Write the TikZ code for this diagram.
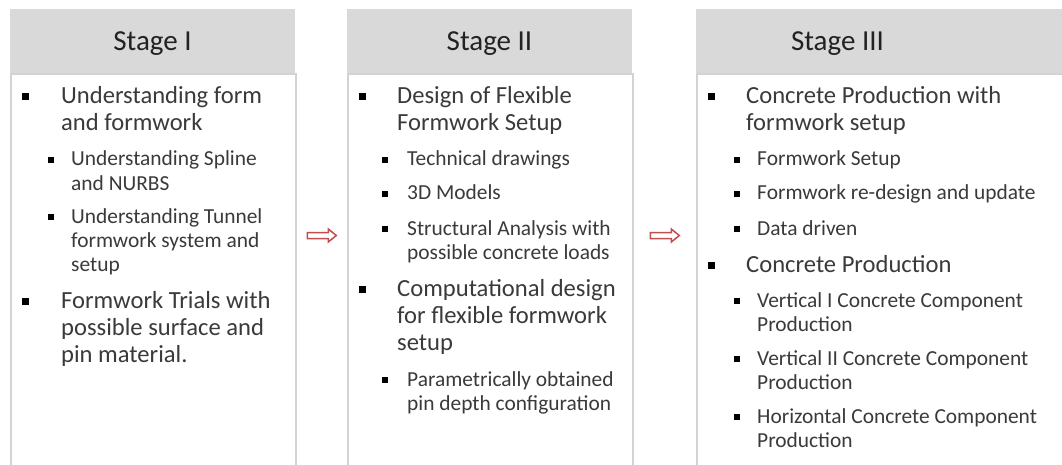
\documentclass[tikz,border=0pt]{standalone}
\usepackage{fontspec}
\setmainfont{Carlito}
\usetikzlibrary{calc}

\definecolor{hdrgray}{HTML}{D9D9D9}
\definecolor{framegray}{HTML}{D3D3D3}
\definecolor{bodytext}{HTML}{3A3A3A}
\definecolor{titletext}{HTML}{222222}
\definecolor{arrowred}{HTML}{C0504D}

\tikzset{
  hdr/.style={fill=hdrgray, draw=none, inner sep=0pt, anchor=north west},
  bodyframe/.style={draw=framegray, line width=1.6pt, fill=white, inner sep=0pt, anchor=north west},
  title/.style={text=titletext, font=\fontsize{29}{34}\selectfont, inner sep=0pt, anchor=base},
  txt1/.style={text=bodytext, font=\fontsize{24.6}{27}\selectfont, inner sep=0pt, anchor=base west},
  txt2/.style={text=bodytext, font=\fontsize{21.4}{24}\selectfont, inner sep=0pt, anchor=base west},
  bul1/.style={fill=black, draw=none, minimum size=7pt, inner sep=0pt},
  bul2/.style={fill=black, draw=none, minimum size=5.5pt, inner sep=0pt},
  stagearrow/.style={draw=arrowred, fill=white, line width=1.5pt, line join=miter},
}

% one bulleted entry: name, level, bullet x, text x, first baseline y, lines
\newcommand\bitem[6]{%
  \ifnum#2=1
    \node[bul1] (#1-b) at (#3,#5-7) {};
    \foreach \ln [count=\k] in {#6} {
      \node[txt1] (#1-\k) at (#4,{#5+(\k-1)*27}) {\ln};
    }
  \else
    \node[bul2] (#1-b) at (#3,#5-6) {};
    \foreach \ln [count=\k] in {#6} {
      \node[txt2] (#1-\k) at (#4,{#5+(\k-1)*24}) {\ln};
    }
  \fi
}

\begin{document}
\begin{tikzpicture}[x=1pt,y=-1pt]
\useasboundingbox (0,0) rectangle (1062,465);

% column frames
\node[bodyframe, minimum width=285pt, minimum height=420pt] (b1) at (10,73) {};
\node[bodyframe, minimum width=285pt, minimum height=420pt] (b2) at (347,73) {};
\node[bodyframe, minimum width=420pt, minimum height=420pt] (b3) at (696,73) {};

% headers
\node[hdr, minimum width=285pt, minimum height=64pt] (h1) at (10,9) {};
\node[hdr, minimum width=285pt, minimum height=64pt] (h2) at (347,9) {};
\node[hdr, minimum width=380pt, minimum height=64pt] (h3) at (696,9) {};

\node[title] (t1) at (152.5,51) {Stage I};
\node[title] (t2) at (489.5,51) {Stage II};
\node[title] (t3) at (837.5,51) {Stage III};

% stage I
\bitem{a1}{1}{25.5}{61}{104}{Understanding form,and formwork}
\bitem{a2}{2}{51}{71}{166}{Understanding Spline,and NURBS}
\bitem{a3}{2}{51}{71}{223}{Understanding Tunnel,formwork system and,setup}
\bitem{a4}{1}{25.5}{61}{308}{Formwork Trials with,possible surface and,pin material.}

% stage II
\bitem{c1}{1}{362.5}{397}{104}{Design of Flexible,Formwork Setup}
\bitem{c2}{2}{385}{407}{166}{Technical drawings}
\bitem{c3}{2}{385}{407}{200}{3D Models}
\bitem{c4}{2}{385}{407}{235}{Structural Analysis with,possible concrete loads}
\bitem{c5}{1}{362.5}{397}{296}{Computational design,for flexible formwork,setup}
\bitem{c6}{2}{385}{407}{386}{Parametrically obtained,pin depth configuration}

% stage III
\bitem{e1}{1}{711.5}{746}{104}{Concrete Production with,formwork setup}
\bitem{e2}{2}{737}{757}{166}{Formwork Setup}
\bitem{e3}{2}{737}{757}{200}{Formwork re-design and update}
\bitem{e4}{2}{737}{757}{235}{Data driven}
\bitem{e5}{1}{711.5}{746}{272}{Concrete Production}
\bitem{e6}{2}{737}{757}{307}{Vertical I Concrete Component,Production}
\bitem{e7}{2}{737}{757}{365}{Vertical II Concrete Component,Production}
\bitem{e8}{2}{737}{757}{423}{Horizontal Concrete Component,Production}

% block arrows between stages
\coordinate (p1) at ($(b1.east)!0.5!(b2.west)$);
\coordinate (p2) at ($(b2.east)!0.5!(b3.west)$);
\foreach \p in {p1,p2} {
  \draw[stagearrow] (\p |- 0,235.5)
    ++(-14.5,-3) -- ++(21,0) -- ++(0,-3.5) -- ++(8,6.5) -- ++(-8,6.5)
    -- ++(0,-3.5) -- ++(-21,0) -- cycle;
}
\end{tikzpicture}
\end{document}
